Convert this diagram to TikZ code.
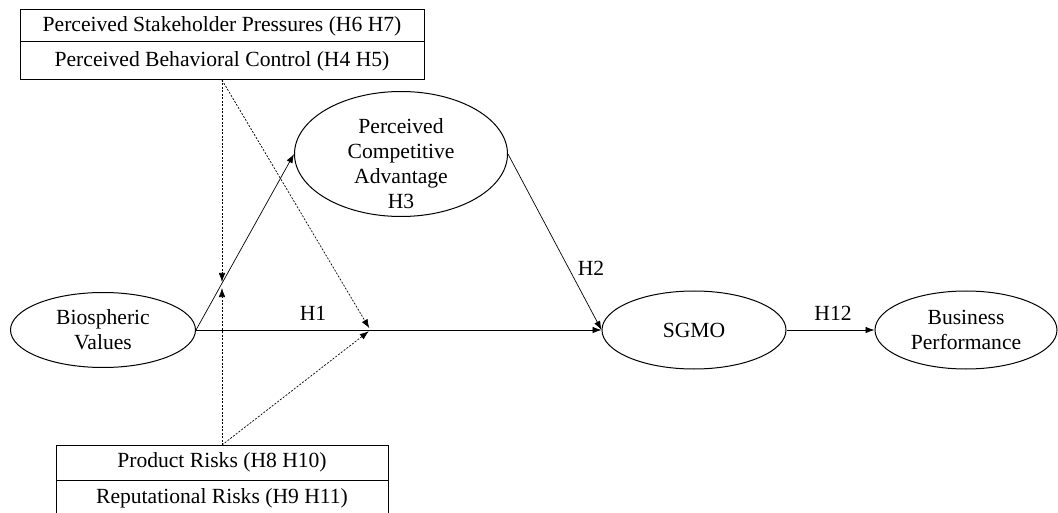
\documentclass[tikz,border=0pt]{standalone}
\usepackage{fontspec}
\setmainfont{Liberation Serif}
\usetikzlibrary{shapes.geometric,arrows.meta}

\tikzset{
  construct/.style={draw,ellipse,line width=1pt,inner sep=0pt,align=center},
  rowbox/.style={draw,line width=1pt,inner sep=0pt,outer sep=0pt},
  causal/.style={line width=0.7pt,-{Latex[length=9pt,width=6.5pt]}},
  moderate/.style={line width=0.7pt,dash pattern=on 2pt off 1.5pt,-{Latex[length=9pt,width=6.5pt]}},
}

\begin{document}
\begin{tikzpicture}[x=1pt,y=-1pt,every node/.style={font=\fontsize{21.6}{25}\selectfont}]
		\useasboundingbox (0,0) rectangle (1058,513);
		% moderator boxes
		\node[rowbox,anchor=north,minimum width=404pt,minimum height=32pt] (pressure) at (222,10) {Perceived Stakeholder Pressures (H6 H7)};
		\node[rowbox,anchor=north,minimum width=404pt,minimum height=38pt] (control) at (pressure.south) {Perceived Behavioral Control (H4 H5)};
		\node[rowbox,anchor=north,minimum width=332pt,minimum height=35pt] (product) at (222,445) {Product Risks (H8 H10)};
		\node[rowbox,anchor=north,minimum width=332pt,minimum height=36pt] (reputation) at (product.south) {Reputational Risks (H9 H11)};

		% constructs
		\node[construct,minimum width=185pt,minimum height=75pt] (bio) at (103,330) {Biospheric\\Values};
		\node[construct,minimum width=213pt,minimum height=125pt,
			label={[align=center,yshift=-10pt]center:Perceived\\Competitive\\Advantage\\H3}] (pca) at (401,154) {};
		\node[construct,minimum width=184pt,minimum height=78pt] (sgmo) at (694,330) {SGMO};
		\node[construct,minimum width=182pt,minimum height=78pt] (perf) at (966,330) {Business\\Performance};

		% paths
		\draw[causal] (bio.east) -- (pca.west);
		\draw[causal] (bio.east) -- (sgmo.west) coordinate[pos=0.43] (m2);
		\draw[causal] (pca.east) -- (sgmo.west);
		\draw[causal] (sgmo.east) -- (perf.west);
		\coordinate (m1) at (222,285);

		% moderation
		\draw[moderate,shorten >=3pt] (control.south) -- (m1);
		\draw[moderate,shorten >=2pt] (control.south) -- (m2);
		\draw[moderate,shorten >=3pt] (product.north) -- (m1);
		\draw[moderate,shorten >=2pt] (product.north) -- (m2);

		% labels
		\node (h1) at (313,313) {H1};
		\node (h2) at (591,268) {H2};
		\node (h12) at (833,313) {H12};
\end{tikzpicture}
\end{document}
